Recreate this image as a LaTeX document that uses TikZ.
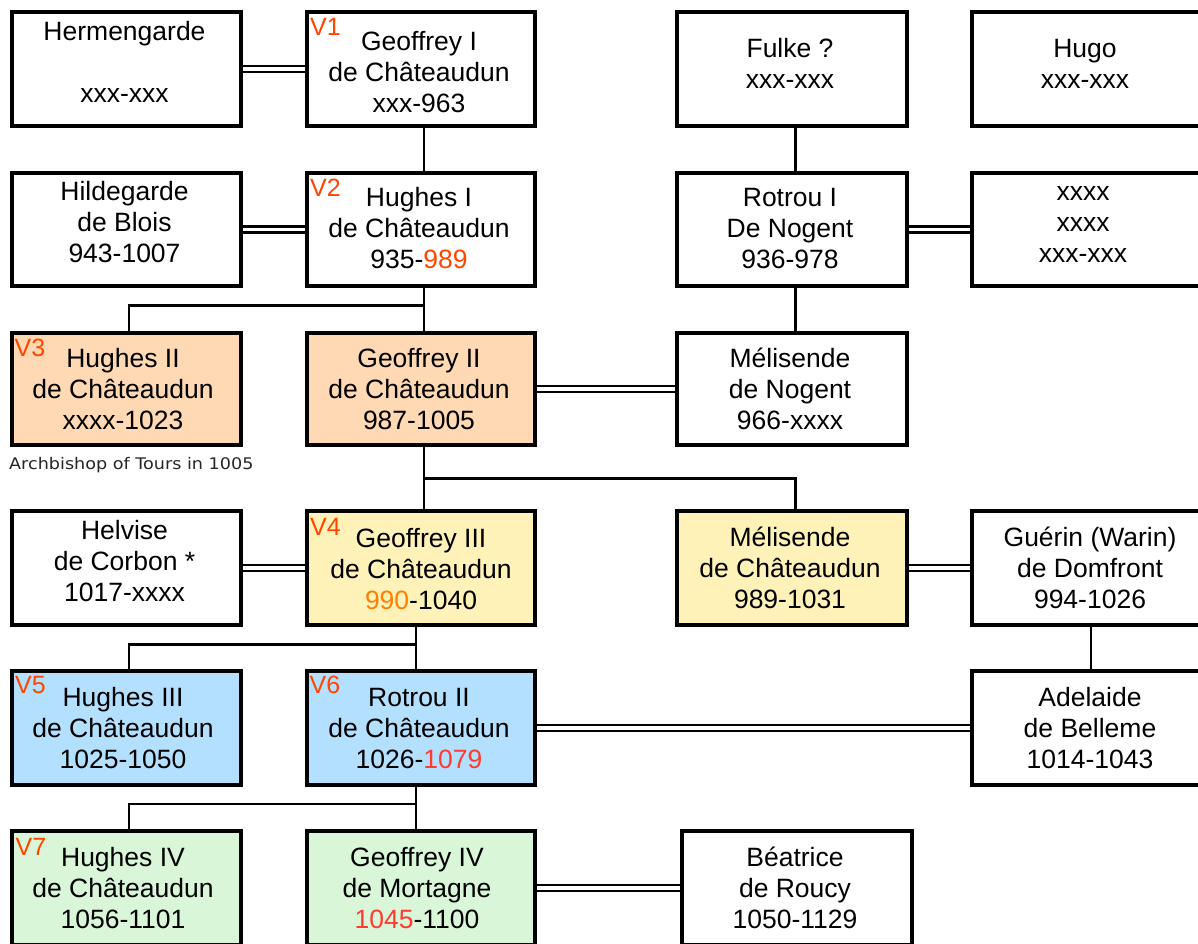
\documentclass[tikz,border=0pt]{standalone}
\usepackage{fontspec}
\usepackage{graphicx}
\setmainfont{Liberation Sans}
\newfontfamily\archfont{DejaVu Sans}
\usetikzlibrary{calc}

\definecolor{peach}{HTML}{FFD9B3}
\definecolor{cream}{HTML}{FFF2B8}
\definecolor{sky}{HTML}{B4E0FF}
\definecolor{mint}{HTML}{D9F6D9}
\definecolor{vred}{HTML}{FF4500}
\definecolor{dred}{HTML}{FF3B30}
\definecolor{dorange}{HTML}{FF7F00}

% strut that centres a line block on the cap height of its middle line
\newcommand\lnstrut{\rule[-3pt]{0pt}{24.5pt}}
\newcommand\threeline[3]{\lnstrut #1\\#2\\#3\lnstrut}
\newcommand\twoline[2]{\lnstrut #1\\#2\lnstrut}

\begin{document}
\begin{tikzpicture}[x=1pt,y=-1pt,
  person/.style={draw=black, line width=4pt, rectangle, inner sep=0pt, fill=white},
  colA/.style={minimum width=229pt},
  colB/.style={minimum width=228.5pt},
  colC/.style={minimum width=229.5pt},
  colD/.style={minimum width=238.5pt},
  rowH/.style={minimum height=114pt},
  txt/.style={inner sep=0pt, align=center, font=\fontsize{26.5}{31}\selectfont},
  vtag/.style={inner sep=0pt, anchor=base west, text=vred, font=\fontsize{25}{30}\selectfont},
  kin/.style={draw=black, line width=2.2pt},
  wed/.style={draw=black, double=white, line width=2.3pt, double distance=3.8pt},
]
\fill[white] (0,0) rectangle (1198,943);
\useasboundingbox (0,0) rectangle (1198,943);

% ---- boxes ----
% generation 1
\node[person, colA, rowH] (herm)  at (126.5,69) {};
\node[person, colB, rowH] (geo1)  at (420.75,69) {};
\node[person, colC, rowH] (fulke) at (791.75,69) {};
\node[person, colD, rowH] (hugo)  at (1090.75,69) {};
% generation 2
\node[person, colA, minimum height=113pt] (hild) at (126.5,229.5) {};
\node[person, colB, minimum height=113pt] (hug1) at (420.75,229.5) {};
\node[person, colC, minimum height=113pt] (rot1) at (791.75,229.5) {};
\node[person, colD, minimum height=113pt] (xxxx) at (1090.75,229.5) {};
% generation 3
\node[person, colA, minimum height=112.3pt, fill=peach] (hug2) at (126.5,388.9) {};
\node[person, colB, minimum height=112.3pt, fill=peach] (geo2) at (420.75,388.9) {};
\node[person, colC, minimum height=112.3pt] (meln) at (791.75,388.9) {};
% generation 4
\node[person, colA, rowH] (helv) at (126.5,568) {};
\node[person, colB, rowH, fill=cream] (geo3) at (420.75,568) {};
\node[person, colC, rowH, fill=cream] (melc) at (791.75,568) {};
\node[person, colD, rowH] (guer) at (1090.75,568) {};
% generation 5
\node[person, colA, rowH, fill=sky] (hug3) at (126.5,728) {};
\node[person, colB, rowH, fill=sky] (rot2) at (420.75,728) {};
\node[person, colD, rowH] (adel) at (1090.75,728) {};
% generation 6
\node[person, colA, rowH, fill=mint] (hug4) at (126.5,888) {};
\node[person, colB, rowH, fill=mint] (geo4) at (420.75,888) {};
\node[person, minimum width=229.5pt, rowH] (beat) at (796.75,888) {};

% ---- names and dates ----
\node[txt] (herm-t)  at (124.5,62.5) {\lnstrut Hermengarde\\\mbox{}\\xxx-xxx\lnstrut};
\node[txt] (geo1-t)  at (419,72) {\threeline{Geoffrey I}{de Châteaudun}{xxx-963}};
\node[txt] (fulke-t) at (790,63.5) {\twoline{Fulke ?}{xxx-xxx}};
\node[txt] (hugo-t)  at (1085,63.5) {\twoline{Hugo}{xxx-xxx}};

\node[txt] (hild-t) at (124.5,222) {\threeline{Hildegarde}{de Blois}{943-1007}};
\node[txt] (hug1-t) at (419,228) {\threeline{Hughes I}{de Châteaudun}{935-{\color{vred}989}}};
\node[txt] (rot1-t) at (790,228.5) {\threeline{Rotrou I}{De Nogent}{936-978}};
\node[txt] (xxxx-t) at (1083,222) {\threeline{xxxx}{xxxx}{xxx-xxx}};

\node[txt] (hug2-t) at (123,389) {\threeline{Hughes II}{de Châteaudun}{xxxx-1023}};
\node[txt] (geo2-t) at (419,389) {\threeline{Geoffrey II}{de Châteaudun}{987-1005}};
\node[txt] (meln-t) at (790,389) {\threeline{Mélisende}{de Nogent}{966-xxxx}};

\node[txt] (helv-t) at (124.5,561) {\threeline{Helvise}{de Corbon *}{1017-xxxx}};
\node[txt] (geo3-t) at (421,569) {\threeline{Geoffrey III}{de Châteaudun}{{\color{dorange}990}-1040}};
\node[txt] (melc-t) at (790,568) {\threeline{Mélisende}{de Châteaudun}{989-1031}};
\node[txt] (guer-t) at (1090,568) {\threeline{Guérin (Warin)}{de Domfront}{994-1026}};

\node[txt] (hug3-t) at (123,728.5) {\threeline{Hughes III}{de Châteaudun}{1025-1050}};
\node[txt] (rot2-t) at (419,728.5) {\threeline{Rotrou II}{de Châteaudun}{1026-{\color{dred}1079}}};
\node[txt] (adel-t) at (1090,728) {\threeline{Adelaide}{de Belleme}{1014-1043}};

\node[txt] (hug4-t) at (123,888) {\threeline{Hughes IV}{de Châteaudun}{1056-1101}};
\node[txt] (geo4-t) at (417,888) {\threeline{Geoffrey IV}{de Mortagne}{{\color{dred}1045}-1100}};
\node[txt] (beat-t) at (795,888) {\threeline{Béatrice}{de Roucy}{1050-1129}};

% ---- generation tags ----
\node[vtag] (v1) at ($(geo1.north west)+(5.5,25.5)$) {V1};
\node[vtag] (v2) at ($(hug1.north west)+(5.5,25.5)$) {V2};
\node[vtag] (v3) at ($(hug2.north west)+(4.5,25.5)$) {V3};
\node[vtag] (v4) at ($(geo3.north west)+(5.5,26.5)$) {V4};
\node[vtag] (v5) at ($(hug3.north west)+(5,24.5)$) {V5};
\node[vtag] (v6) at ($(rot2.north west)+(5,24.5)$) {V6};
\node[vtag] (v7) at ($(hug4.north west)+(5.5,26.5)$) {V7};

% ---- note ----
\node[inner sep=0pt, anchor=base west, text=black!85, font=\archfont\fontsize{16}{19}\selectfont]
  (arch) at (9,469) {\scalebox{1.1}[1]{Archbishop of Tours in 1005}};

% ---- junctions of descent lines ----
\coordinate (ja) at (424,305.5);
\coordinate (jb) at (424,478.5);
\coordinate (jc) at (416,644.5);
\coordinate (jd) at (416,804.3);
\coordinate (xl) at (129,0);
\coordinate (xn) at (795.5,0);

% ---- descent ----
\draw[kin] (geo1.south -| ja) -- (hug1.north -| ja);
\draw[kin] (hug1.south -| ja) -- (geo2.north -| ja);
\draw[kin] (ja) -| (hug2.north -| xl);
\draw[kin] (geo2.south -| jb) -- (geo3.north -| jb);
\draw[kin] (jb) -| (melc.north -| xn);
\draw[kin] (geo3.south -| jc) -- (rot2.north -| jc);
\draw[kin] (jc) -| (hug3.north -| xl);
\draw[kin] (rot2.south -| jd) -- (geo4.north -| jd);
\draw[kin] (jd) -| (hug4.north -| xl);
\draw[kin] (fulke.south -| xn) -- (rot1.north -| xn);
\draw[kin] (rot1.south -| xn) -- (meln.north -| xn);
\draw[kin] (guer.south) -- (adel.north);

% ---- marriages ----
\draw[wed] (herm.east) -- (geo1.west);
\draw[wed] (hild.east) -- (hug1.west);
\draw[wed] (rot1.east) -- (xxxx.west);
\draw[wed] (geo2.east) -- (meln.west);
\draw[wed] (helv.east) -- (geo3.west);
\draw[wed] (melc.east) -- (guer.west);
\draw[wed] (rot2.east) -- (adel.west);
\draw[wed] (geo4.east) -- (beat.west);
\end{tikzpicture}
\end{document}
